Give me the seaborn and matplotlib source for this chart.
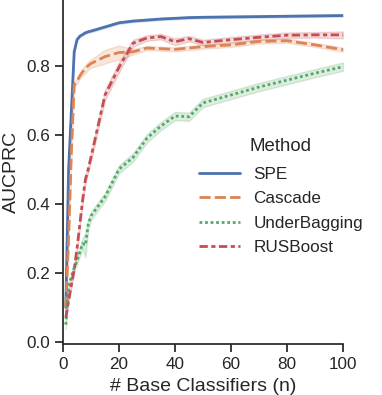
import numpy as np
import pandas as pd
import matplotlib
matplotlib.use('Agg')
import matplotlib.pyplot as plt
import seaborn as sns

# number of base classifiers
n_values = [1, 2, 3, 4, 5, 6, 7, 8, 9, 10,
            15, 20, 25, 30, 35, 40, 45, 50, 60, 70, 80, 90, 100]

# mean AUCPRC per method
spe_mean = [0.10, 0.50, 0.67, 0.84, 0.875, 0.885, 0.89, 0.895, 0.898, 0.900,
            0.912, 0.924, 0.929, 0.932, 0.935, 0.937, 0.939, 0.940, 0.941, 0.942, 0.943, 0.944, 0.945]
cascade_mean = [0.10, 0.30, 0.55, 0.745, 0.755, 0.770, 0.782, 0.790, 0.800, 0.806,
                0.826, 0.838, 0.840, 0.851, 0.849, 0.847, 0.851, 0.855, 0.860, 0.870, 0.872, 0.860, 0.846]
underbagging_mean = [0.05, 0.16, 0.19, 0.215, 0.235, 0.26, 0.285, 0.28, 0.34, 0.365,
                     0.42, 0.50, 0.534, 0.59, 0.625, 0.654, 0.652, 0.692, 0.715, 0.738, 0.758, 0.778, 0.797]
rusboost_mean = [0.07, 0.12, 0.165, 0.21, 0.27, 0.34, 0.41, 0.47, 0.50, 0.535,
                 0.715, 0.795, 0.865, 0.880, 0.884, 0.869, 0.878, 0.867, 0.875, 0.882, 0.888, 0.889, 0.889]

# half width of the shaded band
spe_err = [0.003] * len(n_values)
cascade_err = [0.006, 0.006, 0.006, 0.008, 0.008, 0.008, 0.01, 0.012, 0.012, 0.012,
               0.02, 0.02, 0.008, 0.006, 0.006, 0.006, 0.006, 0.006, 0.006, 0.006, 0.006, 0.006, 0.006]
underbagging_err = [0.012, 0.01, 0.01, 0.01, 0.01, 0.012, 0.015, 0.035, 0.015, 0.012,
                    0.012, 0.012, 0.012, 0.012, 0.012, 0.012, 0.012, 0.012, 0.012, 0.012, 0.012, 0.012, 0.012]
rusboost_err = [0.005, 0.006, 0.008, 0.008, 0.008, 0.008, 0.01, 0.01, 0.01, 0.012,
                0.015, 0.015, 0.01, 0.008, 0.008, 0.01, 0.008, 0.008, 0.008, 0.008, 0.008, 0.008, 0.01]

methods = ['SPE', 'Cascade', 'UnderBagging', 'RUSBoost']
means = [spe_mean, cascade_mean, underbagging_mean, rusboost_mean]
errs = [spe_err, cascade_err, underbagging_err, rusboost_err]

# two runs per point: mean - err, mean + err -> band is min..max
rows = []
for m, mu, er in zip(methods, means, errs):
    for n, v, e in zip(n_values, mu, er):
        rows.append({'n': n, 'AUCPRC': v - e, 'Method': m})
        rows.append({'n': n, 'AUCPRC': v + e, 'Method': m})
df = pd.DataFrame(rows)

sns.set_theme(style='ticks', context='notebook', font_scale=1.12)
plt.rcParams['font.family'] = ['Arial', 'Liberation Sans', 'DejaVu Sans']
plt.rcParams['axes.labelsize'] = 14

fig = plt.figure(figsize=(3.82, 3.95), dpi=100)
ax = fig.add_axes([63 / 382, 51 / 395, 280 / 382, 344 / 395])
sns.lineplot(data=df, x='n', y='AUCPRC', hue='Method', style='Method',
             errorbar=('pi', 100), linewidth=2, ax=ax)
ax.set_xlim(0, 100)
ax.set_ylim(-0.006, 0.99)
ax.set_xlabel('# Base Classifiers (n)')
ax.set_ylabel('AUCPRC')
sns.despine(ax=ax)
leg = ax.legend(title='Method', frameon=False, loc='upper left',
                bbox_to_anchor=(0.43, 0.645), handlelength=2.4, labelspacing=0.55)
leg._legend_box.sep = 9
fig.savefig('out.png', dpi=100)
